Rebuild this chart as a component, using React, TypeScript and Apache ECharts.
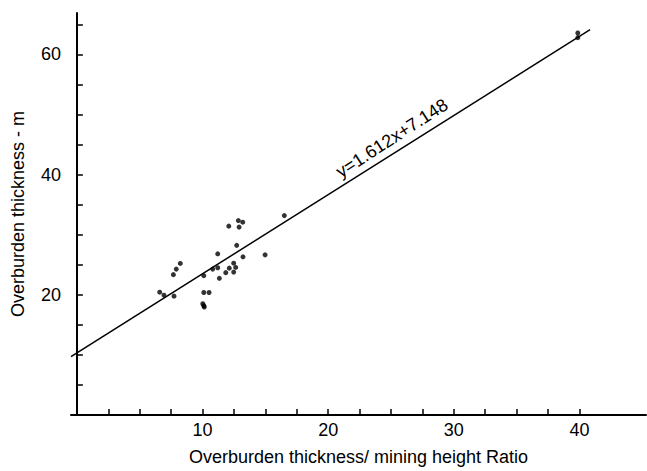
import React, { useEffect, useRef } from "react";
import * as echarts from "echarts";

const scatterX = [16.51, 12.09, 12.85, 13.2, 12.91, 12.72, 11.21, 14.98, 13.22, 8.23, 7.91, 7.68, 12.48, 12.64, 12.13, 11.21, 10.81, 11.85, 12.48, 10.1, 11.34, 6.59, 6.93, 7.73, 10.1, 10.52, 10.02, 10.1, 10.14, 39.87, 39.87];
const scatterY = [33.18, 31.43, 32.36, 32.09, 31.27, 28.23, 26.82, 26.65, 26.32, 25.22, 24.28, 23.36, 25.27, 24.56, 24.44, 24.51, 24.28, 23.69, 23.78, 23.19, 22.75, 20.44, 19.94, 19.78, 20.39, 20.39, 18.51, 18.18, 17.97, 63.57, 62.8];
const fitX = [-0.47, 40.85];
const fitY = [9.72, 64.12];
const xTicks = [2.5, 5, 7.5, 10, 12.5, 15, 17.5, 20, 22.5, 25, 27.5, 30, 32.5, 35, 37.5, 40];
const xLabels = [10, 20, 30, 40];
const yTicks = [5, 10, 15, 20, 25, 30, 35, 40, 45, 50, 55, 60, 65];
const yLabels = [20, 40, 60];
const equation = "y=1.612x+7.148";
const xName = "Overburden thickness/ mining height Ratio";
const yName = "Overburden thickness - m";

const FONT = "'Liberation Sans', Arial, sans-serif";

export default function App() {
  const ref = useRef<HTMLDivElement>(null);
  useEffect(() => {
    if (!ref.current) return;
    const chart = echarts.init(ref.current, undefined, { renderer: "svg" });
    const axisCommon = {
      axisLine: { show: true, lineStyle: { color: "#000", width: 2 } },
      axisTick: { show: true, inside: true, length: 6, lineStyle: { color: "#000", width: 1.5 } },
      splitLine: { show: false },
      nameTextStyle: { color: "#000", fontSize: 18, fontFamily: FONT },
    };
    chart.setOption({
      animation: false,
      backgroundColor: "#fff",
      grid: { left: 71, right: 1, top: 13, bottom: 52, containLabel: false },
      xAxis: {
        type: "value",
        min: -0.47,
        max: 45.3,
        ...axisCommon,
        axisTick: { ...axisCommon.axisTick, customValues: xTicks },
        axisLabel: { customValues: xLabels, color: "#000", fontSize: 18, fontFamily: FONT, margin: 6 },
        name: xName,
        nameLocation: "middle",
        nameGap: 33,
      },
      yAxis: {
        type: "value",
        min: 0,
        max: 66.9,
        ...axisCommon,
        axisTick: { ...axisCommon.axisTick, customValues: yTicks },
        axisLabel: { customValues: yLabels, color: "#000", fontSize: 18, fontFamily: FONT, margin: 10 },
        name: yName,
        nameLocation: "middle",
        nameGap: 44,
      },
      series: [
        {
          type: "line",
          data: fitX.map((x, i) => [x, fitY[i]]),
          symbol: "none",
          lineStyle: { color: "#000", width: 1.5 },
          silent: true,
          z: 1,
        },
        {
          type: "scatter",
          data: scatterX.map((x, i) => [x, scatterY[i]]),
          symbol: "circle",
          symbolSize: 5,
          itemStyle: { color: "#000" },
          z: 2,
        },
      ],
      graphic: [
        {
          type: "text",
          x: 396.8,
          y: 145.7,
          rotation: 0.576,
          style: {
            text: equation,
            fill: "#000",
            fontSize: 18,
            fontFamily: FONT,
            textAlign: "center",
            textVerticalAlign: "bottom",
          },
        },
      ],
    });
    return () => chart.dispose();
  }, []);
  return <div ref={ref} style={{ width: 647, height: 471, position: "absolute", left: 0, top: 0 }} />;
}
